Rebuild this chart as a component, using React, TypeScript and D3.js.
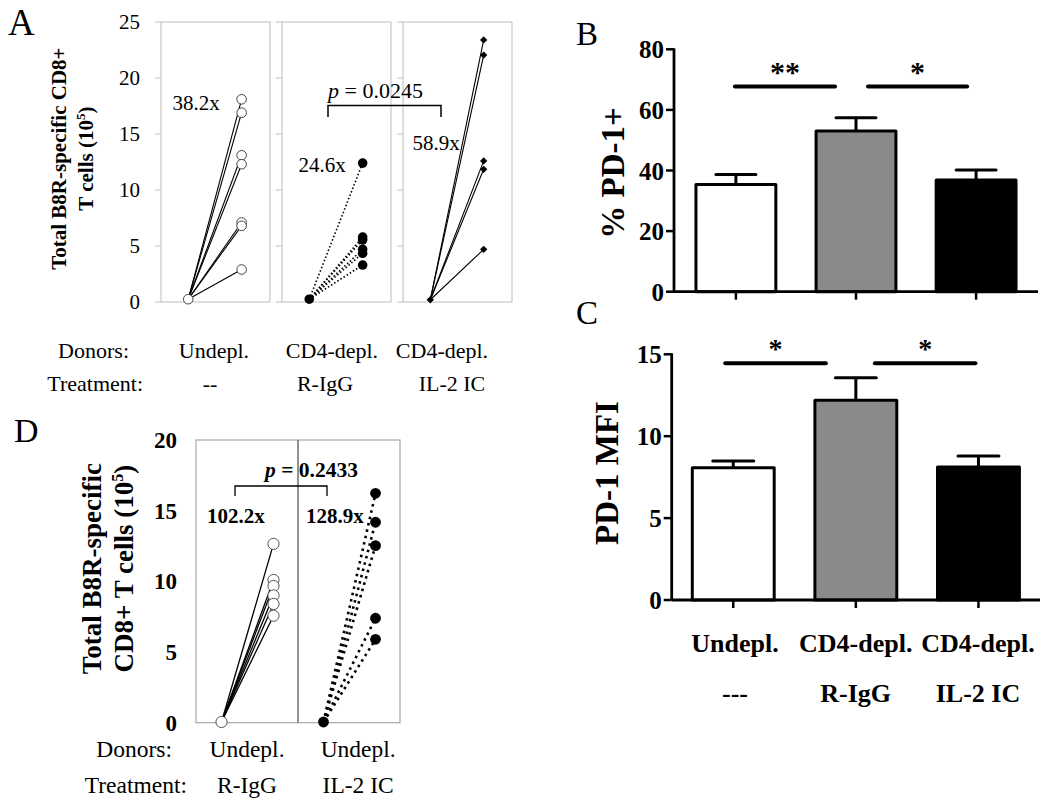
import React from "react";
import * as d3 from "d3";

const FONT = '"Liberation Serif", "Times New Roman", Times, serif';

// ---------- Panel A data ----------
const aGroups = ["Undepl.", "R-IgG", "IL-2 IC"];
const aBaseline = [0.25, 0.25, 0.2];
const aUndeplPost = [18.1, 16.9, 13.1, 12.3, 7.1, 6.8, 2.9];
const aRIgGPost = [12.4, 5.8, 5.55, 4.7, 4.35, 3.3];
const aIL2Post = [23.4, 22.05, 12.6, 11.85, 4.7];
const aFolds = ["38.2x", "24.6x", "58.9x"];
const aFoldY = [17.8, 12.2, 14.2];
const aTicks = [0, 5, 10, 15, 20, 25];
const aDonors = ["Undepl.", "CD4-depl.", "CD4-depl."];
const aTreat = ["--", "R-IgG", "IL-2 IC"];
const aP = "0.0245";

// ---------- Panel D data ----------
const dGroups = ["R-IgG", "IL-2 IC"];
const dBaseline = [0.05, 0.05];
const dRIgGPost = [12.65, 10.1, 9.67, 9.0, 8.4, 7.57];
const dIL2Post = [16.23, 14.18, 12.53, 7.39, 5.9];
const dFolds = ["102.2x", "128.9x"];
const dTicks = [0, 5, 10, 15, 20];
const dDonors = ["Undepl.", "Undepl."];
const dTreat = ["R-IgG", "IL-2 IC"];
const dP = "0.2433";

// ---------- Panels B / C data ----------
const bcCategories = ["Undepl.", "CD4-depl. R-IgG", "CD4-depl. IL-2 IC"];
const bcFills = ["#ffffff", "#8a8a8a", "#000000"];
const bMeans = [35.4, 53.0, 36.9];
const bSems = [3.3, 4.4, 3.3];
const bTicks = [0, 20, 40, 60, 80];
const cMeans = [8.08, 12.2, 8.12];
const cSems = [0.41, 1.37, 0.67];
const cTicks = [0, 5, 10, 15];
const bcXLabels1 = ["Undepl.", "CD4-depl.", "CD4-depl."];
const bcXLabels2 = ["---", "R-IgG", "IL-2 IC"];

function PanelA() {
  const xA = d3.scaleBand<string>().domain(aGroups).range([161, 512]).paddingInner(0.1);
  const yA = d3.scaleLinear().domain([0, 25]).range([302, 22]);
  const bw = xA.bandwidth();
  const posts = [aUndeplPost, aRIgGPost, aIL2Post];
  const diamond = d3.symbol().type(d3.symbolDiamond2).size(34)();
  const donorX = [214, 332, 442];
  const treatX = [210, 325, 452];
  return (
    <g>
      <text x={8} y={35} fontSize={37}>A</text>
      {aTicks.map((t) => (
        <text key={t} x={140} y={yA(t) + 7} fontSize={21} textAnchor="end">{t}</text>
      ))}
      <text transform={`translate(66,${yA(12.8)}) rotate(-90)`} textAnchor="middle" fontSize={21} fontWeight="bold">
        Total B8R-specific CD8+
      </text>
      <text transform={`translate(93,${yA(12.8)}) rotate(-90)`} textAnchor="middle" fontSize={21} fontWeight="bold">
        T cells (10<tspan fontSize={13} dy={-8}>5</tspan><tspan dy={8}>)</tspan>
      </text>
      {aGroups.map((g, i) => {
        const x0 = xA(g)!;
        const preX = x0 + bw * 0.25;
        const postX = x0 + bw * 0.74;
        return (
          <g key={g}>
            <rect x={x0} y={yA(25)} width={bw} height={yA(0) - yA(25)} fill="none" stroke="#bdbdbd" strokeWidth={1} />
            {aTicks.map((t) => (
              <line key={t} x1={x0 - 6} x2={x0} y1={yA(t)} y2={yA(t)} stroke="#bdbdbd" strokeWidth={1} />
            ))}
            {posts[i].map((v, j) => (
              <line
                key={j}
                x1={preX}
                y1={yA(aBaseline[i])}
                x2={postX}
                y2={yA(v)}
                stroke="#000"
                strokeWidth={i === 1 ? 1.6 : 1.1}
                strokeDasharray={i === 1 ? "1.5,2.2" : undefined}
              />
            ))}
            {[aBaseline[i], ...posts[i]].map((v, j) => {
              const cx = j === 0 ? preX : postX;
              const cy = yA(v);
              if (i === 0)
                return <circle key={j} cx={cx} cy={cy} r={4.8} fill="#fff" stroke="#444" strokeWidth={1} />;
              if (i === 1) return <circle key={j} cx={cx} cy={cy} r={4.8} fill="#000" />;
              return <path key={j} d={diamond!} transform={`translate(${cx},${cy})`} fill="#000" />;
            })}
            <text x={x0 + [35, 40, 33][i]} y={yA(aFoldY[i]) + 7} fontSize={21} textAnchor="middle">{aFolds[i]}</text>
          </g>
        );
      })}
      {/* p-value bracket */}
      <text x={328} y={98} fontSize={22}>
        <tspan fontStyle="italic">p</tspan> = {aP}
      </text>
      <path d={`M328,117V105.5H441V117`} fill="none" stroke="#000" strokeWidth={1.5} />
      {/* labels */}
      <text x={129} y={358} fontSize={22} textAnchor="end">Donors:</text>
      <text x={143} y={391} fontSize={22} textAnchor="end">Treatment:</text>
      {aDonors.map((d, i) => (
        <text key={i} x={donorX[i]} y={358} fontSize={22} textAnchor="middle">{d}</text>
      ))}
      {aTreat.map((d, i) => (
        <text key={i} x={treatX[i]} y={391} fontSize={22} textAnchor="middle">{d}</text>
      ))}
    </g>
  );
}

function PanelD() {
  const xD = d3.scaleBand<string>().domain(dGroups).range([196, 400]).padding(0);
  const yD = d3.scaleLinear().domain([0, 20]).range([722.7, 440]);
  const bw = xD.bandwidth();
  const posts = [dRIgGPost, dIL2Post];
  const labelOff = [0.5, 0.59];
  return (
    <g>
      <text x={14} y={442} fontSize={34}>D</text>
      {dTicks.map((t) => (
        <text key={t} x={177} y={yD(t) + 8} fontSize={23} fontWeight="bold" textAnchor="end">{t}</text>
      ))}
      <text transform={`translate(101,${yD(10.9)}) rotate(-90)`} textAnchor="middle" fontSize={27} fontWeight="bold">
        Total B8R-specific
      </text>
      <text transform={`translate(133,${yD(10.9)}) rotate(-90)`} textAnchor="middle" fontSize={27} fontWeight="bold">
        CD8+ T cells (10<tspan fontSize={16} dy={-10}>5</tspan><tspan dy={10}>)</tspan>
      </text>
      <rect x={196} y={yD(20)} width={204} height={yD(0) - yD(20)} fill="none" stroke="#a8a8a8" strokeWidth={1.2} />
      <line x1={xD(dGroups[1])} x2={xD(dGroups[1])} y1={yD(20)} y2={yD(0)} stroke="#6e6e6e" strokeWidth={1.5} />
      {dGroups.map((g, i) => {
        const x0 = xD(g)!;
        const preX = x0 + bw * 0.25;
        const postX = x0 + bw * 0.76;
        return (
          <g key={g}>
            {posts[i].map((v, j) => (
              <line
                key={j}
                x1={preX}
                y1={yD(dBaseline[i])}
                x2={postX}
                y2={yD(v)}
                stroke="#000"
                strokeWidth={i === 1 ? 2.6 : 1.3}
                strokeDasharray={i === 1 ? "2.5,4" : undefined}
              />
            ))}
            {[dBaseline[i], ...posts[i]].map((v, j) => {
              const cx = j === 0 ? preX : postX;
              const cy = yD(v);
              return i === 0 ? (
                <circle key={j} cx={cx} cy={cy} r={5.6} fill="#fff" stroke="#555" strokeWidth={1} />
              ) : (
                <circle key={j} cx={cx} cy={cy} r={5.4} fill="#000" />
              );
            })}
            <text x={x0 + [11, 8][i]} y={523} fontSize={21} fontWeight="bold">{dFolds[i]}</text>
            <text x={x0 + bw * labelOff[i]} y={757} fontSize={23.5} textAnchor="middle">{dDonors[i]}</text>
            <text x={x0 + bw * labelOff[i]} y={793} fontSize={23.5} textAnchor="middle">{dTreat[i]}</text>
          </g>
        );
      })}
      <text x={265} y={477} fontSize={21.5} fontWeight="bold">
        <tspan fontStyle="italic">p</tspan> = {dP}
      </text>
      <path d={`M235,496V486H327V496`} fill="none" stroke="#000" strokeWidth={1.3} />
      <text x={172} y={757} fontSize={23.5} textAnchor="end">Donors:</text>
      <text x={187} y={793} fontSize={23.5} textAnchor="end">Treatment:</text>
    </g>
  );
}

type BarProps = {
  letter: string;
  letterPos: [number, number];
  means: number[];
  sems: number[];
  ticks: number[];
  yMax: number;
  yRange: [number, number];
  xRange: [number, number];
  pIn: number;
  pOut: number;
  yLabel: string;
  yLabelPos: [number, number];
  sigY: number;
  sigLines: [number, number][];
  stars: string[];
  starY: number;
  starSize: number;
};

function BarPanel(p: BarProps) {
  const x = d3.scaleBand<string>().domain(bcCategories).range(p.xRange).paddingInner(p.pIn).paddingOuter(p.pOut);
  const y = d3.scaleLinear().domain([0, p.yMax]).range(p.yRange);
  const bw = x.bandwidth();
  const cx = (i: number) => x(bcCategories[i])! + bw / 2;
  return (
    <g>
      <text x={p.letterPos[0]} y={p.letterPos[1]} fontSize={33}>{p.letter}</text>
      <text
        transform={`translate(${p.yLabelPos[0]},${p.yLabelPos[1]}) rotate(-90)`}
        textAnchor="middle"
        fontSize={33}
        fontWeight="bold"
      >
        {p.yLabel}
      </text>
      {p.ticks.map((t) => (
        <g key={t}>
          <line x1={p.xRange[0] - 8} x2={p.xRange[0]} y1={y(t)} y2={y(t)} stroke="#000" strokeWidth={2.5} />
          <text x={p.xRange[0] - 10} y={y(t) + 9} fontSize={25} fontWeight="bold" textAnchor="end">{t}</text>
        </g>
      ))}
      {p.means.map((m, i) => {
        const x0 = x(bcCategories[i])!;
        const top = y(m + p.sems[i]);
        return (
          <g key={i}>
            <line x1={cx(i)} x2={cx(i)} y1={y(m)} y2={top} stroke="#000" strokeWidth={3} />
            <line x1={cx(i) - bw / 4} x2={cx(i) + bw / 4} y1={top} y2={top} stroke="#000" strokeWidth={3} strokeLinecap="round" />
            <rect x={x0} y={y(m)} width={bw} height={y(0) - y(m)} fill={bcFills[i]} stroke="#000" strokeWidth={3} strokeLinejoin="round" />
            <line x1={cx(i)} x2={cx(i)} y1={y(0)} y2={y(0) + 8} stroke="#000" strokeWidth={2.5} />
          </g>
        );
      })}
      <line x1={p.xRange[0]} x2={p.xRange[0]} y1={y(p.yMax) - 1} y2={y(0)} stroke="#000" strokeWidth={2.8} />
      <line x1={p.xRange[0]} x2={p.xRange[1]} y1={y(0)} y2={y(0)} stroke="#000" strokeWidth={2.8} />
      {p.sigLines.map((s, i) => (
        <g key={i}>
          <line
            x1={cx(i) + s[0]}
            x2={cx(i + 1) + s[1]}
            y1={y(p.sigY)}
            y2={y(p.sigY)}
            stroke="#000"
            strokeWidth={4}
            strokeLinecap="round"
          />
          <text
            x={(cx(i) + s[0] + cx(i + 1) + s[1]) / 2}
            y={p.starY}
            fontSize={p.starSize}
            fontWeight="bold"
            textAnchor="middle"
          >
            {p.stars[i]}
          </text>
        </g>
      ))}
    </g>
  );
}

export default function App() {
  const cx = [735, 855.7, 978];
  return (
    <svg
      width={1050}
      height={807}
      style={{ position: "absolute", left: 0, top: 0, background: "#fff" }}
      fontFamily={FONT}
    >
      <rect width={1050} height={807} fill="#fff" />
      <PanelA />
      <PanelD />
      <BarPanel
        letter="B"
        letterPos={[576, 45]}
        means={bMeans}
        sems={bSems}
        ticks={bTicks}
        yMax={80}
        yRange={[291.7, 49.3]}
        xRange={[674, 1038]}
        pIn={0.335}
        pOut={0.183}
        yLabel="% PD-1+"
        yLabelPos={[624, 173]}
        sigY={67.7}
        sigLines={[[-1, -21], [12, -9]]}
        stars={["**", "*"]}
        starY={82}
        starSize={30}
      />
      <BarPanel
        letter="C"
        letterPos={[576, 324]}
        means={cMeans}
        sems={cSems}
        ticks={cTicks}
        yMax={15}
        yRange={[600, 354.3]}
        xRange={[671.7, 1040]}
        pIn={0.332}
        pOut={0.168}
        yLabel="PD-1 MFI"
        yLabelPos={[618, 473]}
        sigY={14.45}
        sigLines={[[-8, -30], [19, -3]]}
        stars={["*", "*"]}
        starY={358}
        starSize={28}
      />
      {bcXLabels1.map((l, i) => (
        <text key={i} x={cx[i]} y={652} fontSize={26} fontWeight="bold" textAnchor="middle">{l}</text>
      ))}
      {bcXLabels2.map((l, i) => (
        <text key={i} x={cx[i]} y={702} fontSize={26} fontWeight="bold" textAnchor="middle">{l}</text>
      ))}
    </svg>
  );
}
